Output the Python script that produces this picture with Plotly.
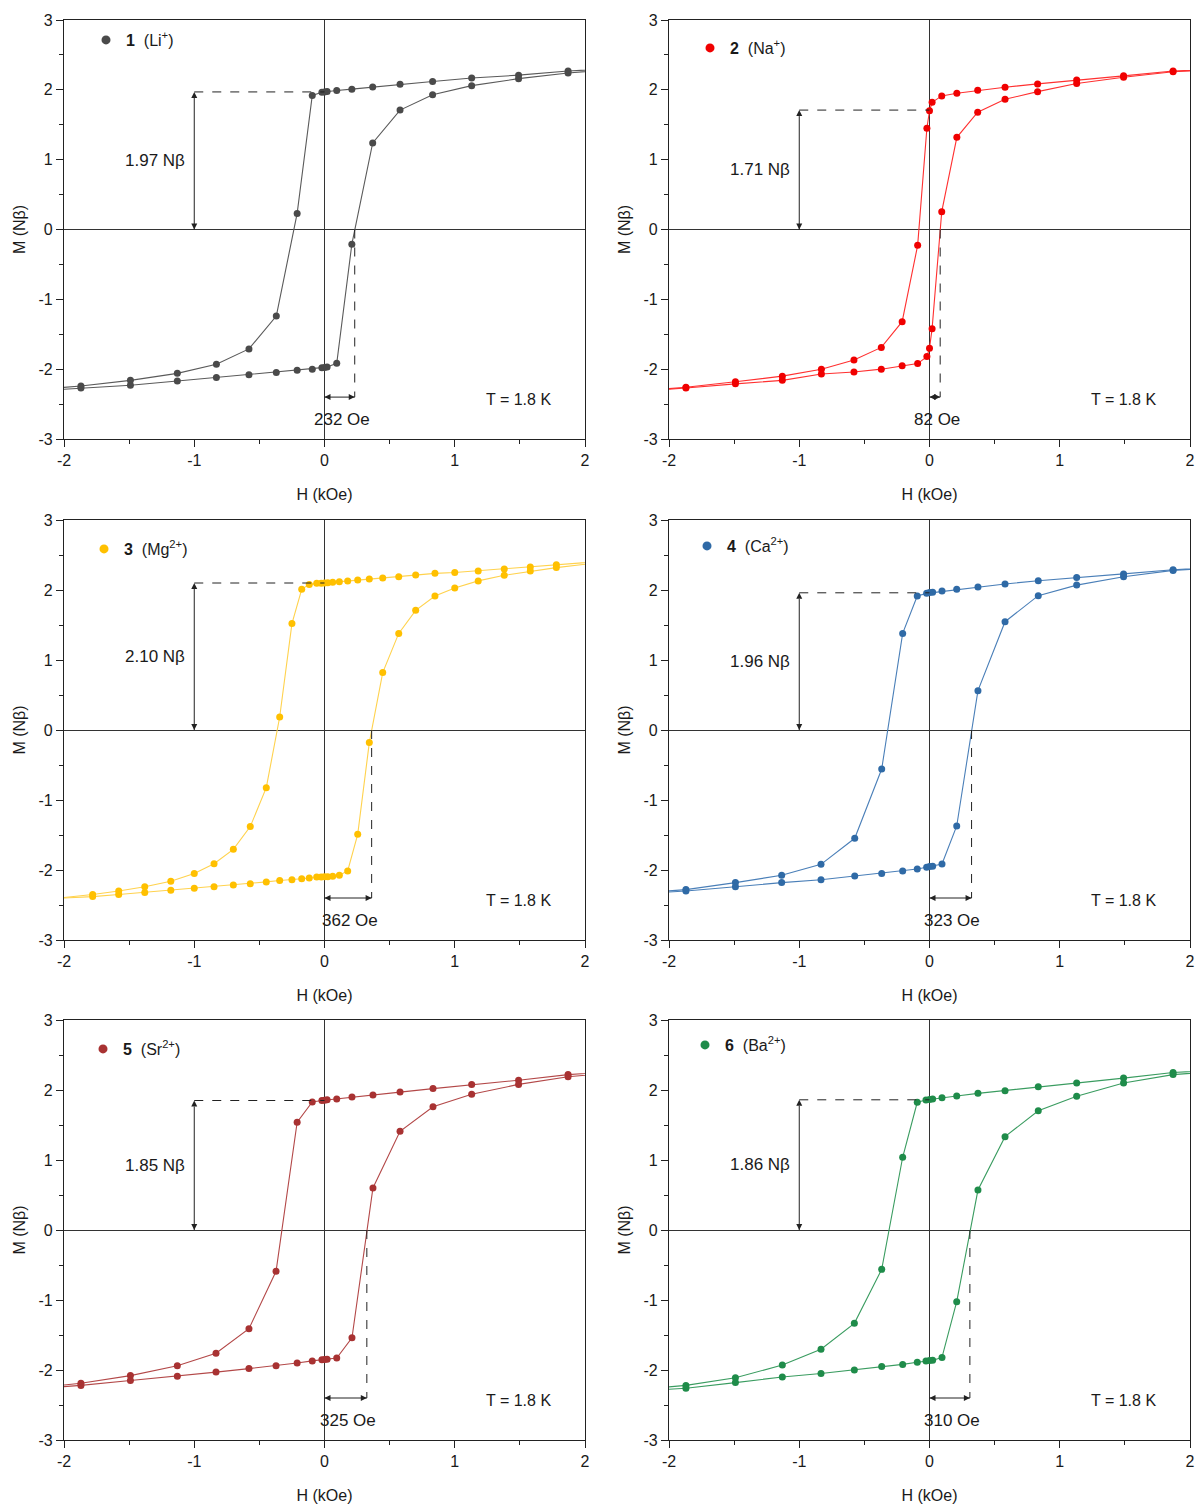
import plotly.graph_objects as go

# ---------------- data ----------------
labels = ["<b>1</b>\u00a0\u00a0(Li<sup>+</sup>)", "<b>2</b>\u00a0\u00a0(Na<sup>+</sup>)",
          "<b>3</b>\u00a0\u00a0(Mg<sup>2+</sup>)", "<b>4</b>\u00a0\u00a0(Ca<sup>2+</sup>)",
          "<b>5</b>\u00a0\u00a0(Sr<sup>2+</sup>)", "<b>6</b>\u00a0\u00a0(Ba<sup>2+</sup>)"]
colors = ["#4a4a4a", "#f00000", "#ffc000", "#2f6aa6", "#a83232", "#1f8c4a"]
line_colors = ["#5a5a5a", "#ff3030", "#ffd24d", "#4a7fb8", "#b34848", "#3a9c60"]

remanence = [1.97, 1.71, 2.10, 1.96, 1.85, 1.86]          # N beta
coercivity_oe = [232, 82, 362, 323, 325, 310]              # Oe
temperature_label = "T = 1.8 K"

x_ticks = [-2, -1, 0, 1, 2]
y_ticks = [-3, -2, -1, 0, 1, 2, 3]

# Panel 1 (Li+)
H1_down = [2.3, 1.87, 1.49, 1.13, 0.83, 0.58, 0.37, 0.21, 0.094, 0.02, 0.0, -0.02, -0.094, -0.21, -0.37, -0.58, -0.83, -1.13, -1.49, -1.87, -2.3]
M1_down = [2.31, 2.27, 2.21, 2.17, 2.12, 2.08, 2.04, 2.01, 1.99, 1.975, 1.97, 1.965, 1.92, 0.23, -1.24, -1.71, -1.93, -2.06, -2.16, -2.24, -2.31]
H1_up = [-2.3, -1.87, -1.49, -1.13, -0.83, -0.58, -0.37, -0.21, -0.094, -0.02, 0.0, 0.02, 0.094, 0.21, 0.37, 0.58, 0.83, 1.13, 1.49, 1.87, 2.3]
M1_up = [-2.32, -2.27, -2.23, -2.17, -2.12, -2.08, -2.046, -2.017, -2.0, -1.98, -1.975, -1.97, -1.917, -0.21, 1.24, 1.71, 1.93, 2.06, 2.16, 2.24, 2.31]

# Panel 2 (Na+)
H2_down = [2.3, 1.87, 1.49, 1.13, 0.83, 0.58, 0.37, 0.21, 0.094, 0.02, 0.0, -0.02, -0.091, -0.21, -0.37, -0.58, -0.83, -1.13, -1.49, -1.87, -2.3]
M2_down = [2.30, 2.27, 2.20, 2.14, 2.085, 2.037, 1.994, 1.951, 1.913, 1.822, 1.70, 1.45, -0.227, -1.32, -1.688, -1.87, -2.0, -2.10, -2.18, -2.26, -2.32]
H2_up = [-2.3, -1.87, -1.49, -1.13, -0.83, -0.58, -0.37, -0.21, -0.091, -0.02, 0.0, 0.02, 0.094, 0.21, 0.37, 0.58, 0.83, 1.13, 1.49, 1.87, 2.3]
M2_up = [-2.32, -2.27, -2.21, -2.16, -2.07, -2.04, -2.0, -1.95, -1.92, -1.82, -1.70, -1.42, 0.255, 1.32, 1.68, 1.865, 1.974, 2.09, 2.18, 2.26, 2.30]

# Panel 3 (Mg2+)
H3_down = [2.2, 1.78, 1.58, 1.38, 1.18, 1.0, 0.848, 0.70, 0.57, 0.447, 0.344, 0.255, 0.178, 0.114, 0.063, 0.025, 0.0,
           -0.025, -0.06, -0.117, -0.175, -0.25, -0.344, -0.447, -0.57, -0.70, -0.848, -1.0, -1.18, -1.38, -1.58, -1.78, -2.2]
M3_down = [2.42, 2.36, 2.33, 2.30, 2.27, 2.25, 2.238, 2.214, 2.19, 2.171, 2.157, 2.143, 2.129, 2.119, 2.11, 2.105, 2.10,
           2.098, 2.095, 2.08, 2.01, 1.52, 0.186, -0.824, -1.38, -1.705, -1.91, -2.05, -2.16, -2.24, -2.30, -2.35, -2.43]
H3_up = [-2.2, -1.78, -1.58, -1.38, -1.18, -1.0, -0.848, -0.70, -0.57, -0.447, -0.344, -0.25, -0.175, -0.117, -0.06, -0.025, 0.0,
         0.025, 0.063, 0.114, 0.178, 0.255, 0.344, 0.447, 0.57, 0.70, 0.848, 1.0, 1.18, 1.38, 1.58, 1.78, 2.2]
M3_up = [-2.42, -2.38, -2.35, -2.32, -2.29, -2.26, -2.24, -2.214, -2.195, -2.17, -2.15, -2.14, -2.124, -2.114, -2.10, -2.10, -2.097,
         -2.095, -2.09, -2.076, -2.014, -1.49, -0.18, 0.82, 1.38, 1.71, 1.914, 2.03, 2.13, 2.21, 2.27, 2.32, 2.41]

# Panel 4 (Ca2+)
H4_down = [2.3, 1.87, 1.49, 1.13, 0.835, 0.58, 0.372, 0.209, 0.096, 0.024, 0.0, -0.022, -0.094, -0.206, -0.367, -0.574, -0.833, -1.135, -1.49, -1.87, -2.3]
M4_down = [2.33, 2.29, 2.23, 2.18, 2.133, 2.086, 2.043, 2.01, 1.986, 1.967, 1.963, 1.952, 1.914, 1.38, -0.557, -1.547, -1.919, -2.076, -2.18, -2.28, -2.34]
H4_up = [-2.3, -1.87, -1.49, -1.135, -0.833, -0.574, -0.367, -0.206, -0.094, -0.022, 0.0, 0.024, 0.096, 0.209, 0.372, 0.58, 0.835, 1.13, 1.49, 1.87, 2.3]
M4_up = [-2.35, -2.30, -2.24, -2.18, -2.14, -2.086, -2.05, -2.014, -1.986, -1.96, -1.95, -1.948, -1.914, -1.371, 0.562, 1.547, 1.919, 2.07, 2.19, 2.28, 2.33]

# Panel 5 (Sr2+)
H5_down = [2.3, 1.87, 1.49, 1.13, 0.833, 0.58, 0.372, 0.211, 0.094, 0.02, 0.0, -0.02, -0.094, -0.21, -0.372, -0.58, -0.833, -1.13, -1.49, -1.87, -2.3]
M5_down = [2.27, 2.22, 2.14, 2.08, 2.02, 1.97, 1.93, 1.90, 1.87, 1.86, 1.855, 1.85, 1.83, 1.54, -0.59, -1.41, -1.76, -1.94, -2.08, -2.19, -2.27]
H5_up = [-2.3, -1.87, -1.49, -1.13, -0.833, -0.58, -0.372, -0.21, -0.094, -0.02, 0.0, 0.02, 0.094, 0.211, 0.372, 0.58, 0.833, 1.13, 1.49, 1.87, 2.3]
M5_up = [-2.28, -2.22, -2.15, -2.09, -2.03, -1.98, -1.94, -1.90, -1.87, -1.855, -1.85, -1.845, -1.83, -1.54, 0.60, 1.41, 1.76, 1.94, 2.08, 2.19, 2.26]

# Panel 6 (Ba2+)
H6_down = [2.3, 1.87, 1.49, 1.13, 0.835, 0.58, 0.372, 0.209, 0.096, 0.024, 0.0, -0.027, -0.094, -0.206, -0.367, -0.577, -0.833, -1.13, -1.49, -1.87, -2.3]
M6_down = [2.29, 2.25, 2.17, 2.10, 2.048, 1.99, 1.952, 1.914, 1.89, 1.871, 1.865, 1.857, 1.824, 1.039, -0.562, -1.333, -1.704, -1.93, -2.11, -2.22, -2.29]
H6_up = [-2.3, -1.87, -1.49, -1.13, -0.833, -0.577, -0.367, -0.206, -0.094, -0.027, 0.0, 0.024, 0.096, 0.209, 0.372, 0.58, 0.835, 1.13, 1.49, 1.87, 2.3]
M6_up = [-2.31, -2.26, -2.18, -2.10, -2.05, -2.0, -1.95, -1.92, -1.89, -1.87, -1.866, -1.862, -1.82, -1.024, 0.571, 1.333, 1.704, 1.91, 2.10, 2.22, 2.28]

panels = [
    (H1_down, M1_down, H1_up, M1_up),
    (H2_down, M2_down, H2_up, M2_up),
    (H3_down, M3_down, H3_up, M3_up),
    (H4_down, M4_down, H4_up, M4_up),
    (H5_down, M5_down, H5_up, M5_up),
    (H6_down, M6_down, H6_up, M6_up),
]

# ---------------- layout geometry ----------------
# the page's default body margin is removed after plotting (post_script), so the figure fills the window
W, Hh = 1197, 1508


def px_x(p):
    return p / W


def px_y(p):
    return 1 - p / Hh


col_dom = [[px_x(64), px_x(585)], [px_x(669), px_x(1190)]]
row_dom = [[px_y(439), px_y(20)], [px_y(940), px_y(520)], [px_y(1440), px_y(1020)]]
legend_px = [(106, 40), (710, 48), (104, 549), (707, 546), (103, 1049), (705, 1045)]
ARROW_LEVEL = -2.4

FONT = "Arial, Liberation Sans, Helvetica, sans-serif"
TXT = "#1a1a1a"
AX = "#222222"

fig = go.Figure()
layout = dict(
    template="none",
    width=W, height=Hh, margin=dict(l=0, r=0, t=0, b=0, autoexpand=False),
    paper_bgcolor="white", plot_bgcolor="white",
    font=dict(family=FONT, size=16, color=TXT),
    hovermode="closest",
    shapes=[], annotations=[],
)

for i, (hd, md, hu, mu) in enumerate(panels):
    k = i + 1
    r, c = divmod(i, 2)
    xs = "x" if k == 1 else f"x{k}"
    ys = "y" if k == 1 else f"y{k}"
    lg = "legend" if k == 1 else f"legend{k}"
    for hx, my in ((hd, md), (hu, mu)):
        fig.add_trace(go.Scatter(
            x=hx, y=my, mode="lines+markers", xaxis=xs, yaxis=ys, showlegend=False,
            line=dict(color=line_colors[i], width=1.1),
            marker=dict(color=colors[i], size=7),
            cliponaxis=True, hoverinfo="x+y"))
    fig.add_trace(go.Scatter(
        x=[None], y=[None], mode="markers", xaxis=xs, yaxis=ys, name=labels[i],
        legend=lg, showlegend=True, marker=dict(color=colors[i], size=9)))

    rem = remanence[i]
    hc = coercivity_oe[i] / 1000.0
    # double-headed arrows (remanence and coercive field)
    fig.add_trace(go.Scatter(
        x=[-1.0, -1.0], y=[0.0, rem], mode="lines+markers", xaxis=xs, yaxis=ys, showlegend=False,
        line=dict(color=AX, width=1), hoverinfo="skip", cliponaxis=False,
        marker=dict(symbol=["arrow-down", "arrow-up"], size=6, color=AX, line=dict(width=0))))
    fig.add_trace(go.Scatter(
        x=[0.0, hc], y=[ARROW_LEVEL, ARROW_LEVEL], mode="lines+markers", xaxis=xs, yaxis=ys, showlegend=False,
        line=dict(color=AX, width=1), hoverinfo="skip", cliponaxis=False,
        marker=dict(symbol=["arrow-left", "arrow-right"], size=6, color=AX, line=dict(width=0))))

    lx, ly = legend_px[i]
    layout[lg] = dict(x=px_x(lx - 20), y=px_y(ly), xanchor="left", yanchor="middle",
                      bgcolor="rgba(0,0,0,0)", font=dict(family=FONT, size=16, color=TXT),
                      itemclick=False, itemdoubleclick=False)

    axbase = dict(showline=True, linecolor=AX, linewidth=1.2, mirror=True, showgrid=False,
                  zeroline=True, zerolinecolor="#333333", zerolinewidth=1, automargin=False,
                  ticks="outside", ticklen=7, tickwidth=1, tickcolor=AX,
                  tickfont=dict(family=FONT, size=16, color=TXT), fixedrange=True)
    xname = "xaxis" if k == 1 else f"xaxis{k}"
    yname = "yaxis" if k == 1 else f"yaxis{k}"
    layout[xname] = dict(axbase, domain=col_dom[c], anchor=ys, range=[-2, 2],
                         tickmode="array", tickvals=x_ticks, ticktext=[str(v) for v in x_ticks],
                         minor=dict(tickmode="array", tickvals=[-1.5, -0.5, 0.5, 1.5],
                                    ticklen=4, ticks="outside", tickcolor=AX),
                         title=dict(text="H (kOe)", font=dict(family=FONT, size=16, color=TXT), standoff=20))
    layout[yname] = dict(axbase, domain=row_dom[r], anchor=xs, range=[-3, 3],
                         tickmode="array", tickvals=y_ticks, ticktext=[str(v) for v in y_ticks],
                         minor=dict(tickmode="array", tickvals=[-2.5, -1.5, -0.5, 0.5, 1.5, 2.5],
                                    ticklen=4, ticks="outside", tickcolor=AX),
                         title=dict(text="M (N\u03b2)", font=dict(family=FONT, size=16, color=TXT), standoff=8))

    xref, yref = xs, ys
    # dashed guide lines
    layout["shapes"].append(dict(type="line", xref=xref, yref=yref, x0=-1.0, x1=0.0, y0=rem, y1=rem,
                                 line=dict(color=AX, width=1, dash="dash")))
    layout["shapes"].append(dict(type="line", xref=xref, yref=yref, x0=hc, x1=hc, y0=0.0, y1=ARROW_LEVEL,
                                 line=dict(color=AX, width=1, dash="dash")))
    # labels
    layout["annotations"].append(dict(x=-1.3, y=rem / 2, xref=xref, yref=yref, showarrow=False,
                                      text=f"{rem:.2f} N\u03b2", font=dict(family=FONT, size=17, color=TXT)))
    layout["annotations"].append(dict(x=max(hc / 2 + 0.015, 0.06), y=-2.72, xref=xref, yref=yref, showarrow=False,
                                      text=f"{coercivity_oe[i]} Oe", font=dict(family=FONT, size=17, color=TXT)))
    layout["annotations"].append(dict(x=1.49, y=-2.43, xref=xref, yref=yref, showarrow=False,
                                      text=temperature_label, font=dict(family=FONT, size=16, color=TXT)))

fig.update_layout(**layout)
fig.write_html(
    "out.html",
    config={"displayModeBar": False},
    post_script="document.body.style.margin='0';document.body.style.overflow='hidden';",
)
